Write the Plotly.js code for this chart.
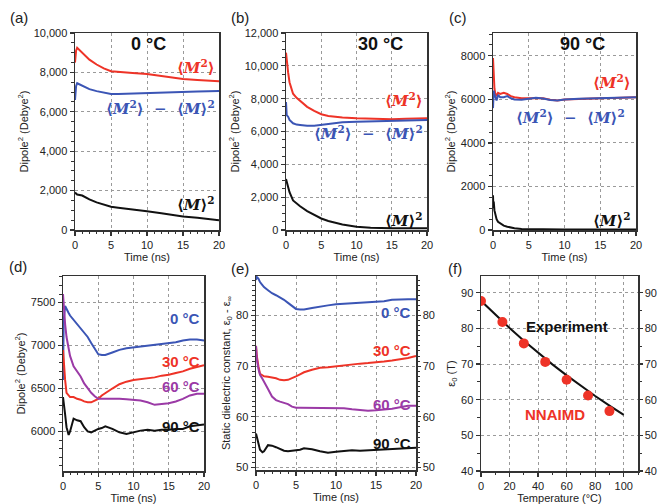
<!DOCTYPE html>
<html><head><meta charset="utf-8">
<script src="https://cdn.plot.ly/plotly-3.0.1.min.js"></script>
<style>html,body{margin:0;padding:0;background:#fff}#chart{width:659px;height:504px}</style>
</head><body><div id="chart"></div>
<script>
// ---------- DATA ----------
// Panel (a) 0 °C
const tA = [0, 0.15, 0.3, 1, 2, 3, 4, 5, 6, 8, 10, 12, 14, 15, 17, 20];
const aM2 = [8500, 9100, 9250, 9000, 8650, 8400, 8200, 8060, 8020, 7970, 7920, 7820, 7700, 7660, 7620, 7550];
const aFluct = [6600, 7300, 7450, 7320, 7150, 7050, 6960, 6900, 6900, 6930, 6960, 6980, 7000, 7010, 7030, 7050];
const aMsq = [1900, 1850, 1800, 1750, 1550, 1400, 1280, 1180, 1130, 1050, 950, 850, 740, 680, 620, 500];
// Panel (b) 30 °C
const tB = [0, 0.1, 0.3, 0.5, 1, 1.5, 2, 3, 4, 5, 6, 7, 8, 10, 12, 15, 17, 20];
const bM2 = [10800, 10300, 9600, 9000, 8300, 8050, 7850, 7500, 7250, 7050, 6950, 6900, 6850, 6800, 6780, 6750, 6780, 6800];
const bFluct = [7800, 7000, 6900, 6700, 6500, 6420, 6400, 6350, 6350, 6400, 6480, 6520, 6560, 6600, 6620, 6650, 6680, 6700];
const bMsq = [3100, 2950, 2600, 2300, 1800, 1600, 1450, 1150, 900, 700, 550, 430, 340, 200, 140, 100, 100, 100];
// Panel (c) 90 °C
const tC = [0, 0.05, 0.1, 0.2, 0.3, 0.5, 0.7, 1, 1.5, 2, 2.5, 3, 4, 5, 6, 7, 8, 9, 10, 12, 15, 17, 20];
const cM2 = [7900, 7300, 6900, 6500, 6300, 6150, 6300, 6250, 6300, 6250, 6150, 6100, 6050, 6050, 6080, 6050, 5980, 5950, 6000, 6030, 6050, 6060, 6100];
const cFluct = [5600, 6300, 6400, 6250, 6100, 5950, 6200, 6100, 6100, 6150, 6050, 6000, 5980, 6030, 6070, 6040, 5970, 5950, 5990, 6030, 6050, 6060, 6100];
const cMsq = [1600, 1000, 1300, 900, 700, 500, 380, 300, 200, 150, 110, 80, 50, 40, 30, 25, 20, 20, 20, 20, 20, 20, 20];
// Panels (d) and (e): time axis shared
const tDE = [0, 0.1, 0.3, 0.5, 0.8, 1, 1.5, 2, 2.5, 3, 3.5, 4, 4.5, 5, 5.5, 6, 7, 8, 9, 10, 11, 12, 13, 14, 15, 16, 17, 18, 19, 20];
const d0 = [6600, 7300, 7460, 7420, 7380, 7350, 7300, 7240, 7200, 7150, 7100, 7030, 6960, 6900, 6890, 6890, 6920, 6950, 6970, 6980, 6990, 7000, 7010, 7020, 7030, 7040, 7060, 7070, 7070, 7060];
const d30 = [6950, 6800, 6600, 6450, 6420, 6400, 6400, 6380, 6370, 6350, 6340, 6340, 6360, 6380, 6420, 6450, 6500, 6550, 6580, 6600, 6610, 6620, 6630, 6650, 6660, 6680, 6700, 6730, 6750, 6770];
const d60 = [7600, 7450, 7250, 7100, 6950, 6880, 6760, 6700, 6640, 6560, 6500, 6450, 6410, 6380, 6380, 6380, 6385, 6380, 6375, 6370, 6360, 6340, 6310, 6320, 6330, 6350, 6380, 6420, 6440, 6440];
const d90 = [6400, 6350, 6200, 6050, 5960, 6000, 6150, 6130, 6120, 6050, 6000, 5990, 6010, 6030, 6040, 6060, 6030, 5990, 5970, 5990, 6010, 6020, 6010, 6020, 6020, 6030, 6030, 6060, 6070, 6080];
const e0 = [87.0, 87.6, 87.3, 86.6, 86.0, 85.6, 85.0, 84.4, 84.0, 83.6, 83.1, 82.5, 81.9, 81.3, 81.2, 81.2, 81.5, 81.8, 82.0, 82.2, 82.3, 82.5, 82.6, 82.6, 82.7, 82.8, 83.1, 83.2, 83.2, 83.2];
const e30 = [74, 72, 70, 68.5, 68.2, 68, 67.9, 67.8, 67.6, 67.3, 67.2, 67.3, 67.6, 68, 68.4, 68.8, 69.3, 69.7, 69.8, 70, 70.2, 70.4, 70.5, 70.6, 70.7, 70.9, 71.1, 71.3, 71.6, 72];
const e60 = [74, 71.5, 69.5, 68.3, 67.5, 67, 65.5, 64, 63.3, 63, 62.8, 62.5, 62, 61.8, 61.8, 61.8, 61.8, 61.8, 61.7, 61.8, 61.7, 61.5, 61.3, 61.2, 61.3, 61.4, 61.6, 61.9, 62.2, 62.2];
const e90 = [56.7, 56, 54.5, 53.5, 53, 53.2, 54.4, 54.3, 54, 53.6, 53.3, 53.2, 53.3, 53.5, 53.5, 53.8, 53.6, 53.2, 52.9, 53.1, 53.2, 53.4, 53.3, 53.4, 53.5, 53.5, 53.6, 53.7, 53.8, 53.9];
// Panel (f)
const expT = [0, 10, 20, 30, 40, 50, 60, 70, 80, 90, 100];
const expEps = [87.74, 83.83, 80.10, 76.54, 73.15, 69.91, 66.82, 63.86, 61.03, 58.32, 55.72];
const nnT = [0, 15, 30, 45, 60, 75, 90];
const nnEps = [87.7, 81.8, 75.8, 70.6, 65.6, 61.2, 56.8];
const tempLabels = ['0 °C', '30 °C', '60 °C', '90 °C'];

// ---------- STYLE ----------
const W = 659, H = 504;
const RED = '#ee3327', BLUE = '#3b55b5', PURPLE = '#9b3aa6', BLACK = '#111111';
const dx = (a, b) => [a / W, b / W];
const dy = (top, bot) => [1 - bot / H, 1 - top / H];
const px = v => v / W, py = v => 1 - v / H;

function ax(extra) {
  return Object.assign({
    showline: true, linecolor: '#333', linewidth: 1.5, mirror: true,
    ticks: 'outside', ticklen: 4, tickwidth: 1.2, tickcolor: '#333',
    showgrid: true, gridcolor: '#9a9a9a', griddash: 'dot', gridwidth: 1,
    zeroline: false, automargin: false,
    tickfont: {size: 11, color: '#222'}
  }, extra);
}
function minor(d) { return {ticks: 'outside', ticklen: 2.5, tickwidth: 1, tickcolor: '#333', dtick: d, showgrid: false}; }
const timeTitle = {text: 'Time (ns)', font: {size: 11, color: '#222'}, standoff: 1};
const timeTitleLow = {text: 'Time (ns)', font: {size: 11, color: '#222'}, standoff: 0};
const dipTitle = {text: 'Dipole<sup>2</sup> (Debye<sup>2</sup>)', font: {size: 11, color: '#222'}, standoff: 3};

function line(x, y, c, xa, ya) {
  return {x: x, y: y, type: 'scatter', mode: 'lines', line: {color: c, width: 2}, xaxis: xa, yaxis: ya, showlegend: false, hoverinfo: 'skip'};
}

const traces = [
  line(tA, aM2, RED, 'x', 'y'), line(tA, aFluct, BLUE, 'x', 'y'), line(tA, aMsq, BLACK, 'x', 'y'),
  line(tB, bM2, RED, 'x2', 'y2'), line(tB, bFluct, BLUE, 'x2', 'y2'), line(tB, bMsq, BLACK, 'x2', 'y2'),
  line(tC, cM2, RED, 'x3', 'y3'), line(tC, cFluct, BLUE, 'x3', 'y3'), line(tC, cMsq, BLACK, 'x3', 'y3'),
  line(tDE, d0, BLUE, 'x4', 'y4'), line(tDE, d30, RED, 'x4', 'y4'), line(tDE, d60, PURPLE, 'x4', 'y4'), line(tDE, d90, BLACK, 'x4', 'y4'),
  line(tDE, e0, BLUE, 'x5', 'y5'), line(tDE, e30, RED, 'x5', 'y5'), line(tDE, e60, PURPLE, 'x5', 'y5'), line(tDE, e90, BLACK, 'x5', 'y5'),
  line(expT, expEps, BLACK, 'x6', 'y6'),
  {x: nnT, y: nnEps, type: 'scatter', mode: 'markers', marker: {color: RED, size: 10}, xaxis: 'x6', yaxis: 'y6', showlegend: false, hoverinfo: 'skip'},
  // carriers for right-side mirrored axes of (e) and (f)
  {x: [null], y: [null], type: 'scatter', mode: 'lines', xaxis: 'x5', yaxis: 'y7', showlegend: false, hoverinfo: 'skip'},
  {x: [null], y: [null], type: 'scatter', mode: 'lines', xaxis: 'x6', yaxis: 'y8', showlegend: false, hoverinfo: 'skip'}
];

const tx = {range: [0, 20], dtick: 5, minor: minor(1), title: timeTitle};
const txLow = {range: [0, 20], dtick: 5, minor: minor(1), title: timeTitleLow};
const layout = {
  width: W, height: H, margin: {l: 0, r: 0, t: 0, b: 0},
  paper_bgcolor: '#fff', plot_bgcolor: '#fff',
  font: {family: 'Liberation Sans, Arial, sans-serif', color: '#222'},
  showlegend: false,
  xaxis: ax(Object.assign({domain: dx(75, 219), anchor: 'y'}, tx)),
  yaxis: ax({domain: dy(33, 230), anchor: 'x', range: [0, 10000], dtick: 2000, tickformat: ',d', minor: minor(500), title: dipTitle}),
  xaxis2: ax(Object.assign({domain: dx(286, 427), anchor: 'y2'}, tx)),
  yaxis2: ax({domain: dy(33, 230), anchor: 'x2', range: [0, 12000], dtick: 2000, tickformat: ',d', minor: minor(500), title: dipTitle}),
  xaxis3: ax(Object.assign({domain: dx(493, 636), anchor: 'y3'}, tx)),
  yaxis3: ax({domain: dy(33, 230), anchor: 'x3', range: [0, 9050], dtick: 2000, minor: minor(500), title: dipTitle}),
  xaxis4: ax(Object.assign({domain: dx(63, 204), anchor: 'y4'}, txLow)),
  yaxis4: ax({domain: dy(276, 471), anchor: 'x4', range: [5540, 7810], tick0: 6000, dtick: 500, minor: minor(100), title: dipTitle}),
  xaxis5: ax(Object.assign({domain: dx(256, 416), anchor: 'y5'}, txLow)),
  yaxis5: ax({domain: dy(276, 470), anchor: 'x5', range: [49.5, 87.8], dtick: 10, minor: minor(1),
    title: {text: 'Static dielectric constant, ε<sub>0</sub> - ε<sub>∞</sub>', font: {size: 11, color: '#222'}, standoff: 3}}),
  yaxis7: ax({overlaying: 'y5', anchor: 'x5', side: 'right', range: [49.5, 87.8], dtick: 10, minor: minor(1), showgrid: false, mirror: false, ticklen: 3}),
  xaxis6: ax({domain: dx(481, 638), anchor: 'y6', range: [0, 110], dtick: 20, minor: minor(10),
    title: {text: 'Temperature (°C)', font: {size: 11, color: '#222'}, standoff: 0}}),
  yaxis6: ax({domain: dy(276, 471), anchor: 'x6', range: [40, 94.7], dtick: 10, minor: minor(5),
    title: {text: 'ε<sub>0</sub> (T)', font: {size: 11, color: '#222'}, standoff: 3}}),
  yaxis8: ax({overlaying: 'y6', anchor: 'x6', side: 'right', range: [40, 94.7], dtick: 10, minor: minor(5), showgrid: false, mirror: false, ticklen: 3}),
  annotations: []
};

const ann = layout.annotations;
function A(text, x, y, opts) {
  ann.push(Object.assign({text: text, xref: 'paper', yref: 'paper', x: px(x), y: py(y), showarrow: false,
    xanchor: 'center', yanchor: 'middle', font: {size: 15, color: '#222'}}, opts || {}));
}
// panel letters
[['(a)', 19, 18], ['(b)', 240, 18], ['(c)', 458, 18], ['(d)', 18, 266], ['(e)', 240, 268], ['(f)', 455, 268]]
  .forEach(p => A(p[0], p[1], p[2], {font: {size: 15, color: '#222'}}));
// temperature headers of top row
A('<b>0 °C</b>', 148, 44, {font: {size: 18, color: '#111'}});
A('<b>30 °C</b>', 380, 44, {font: {size: 18, color: '#111'}});
A('<b>90 °C</b>', 582, 44, {font: {size: 18, color: '#111'}});
// math labels
const mf = (c) => ({family: 'DejaVu Serif, Liberation Serif, serif', size: 15, color: c});
const M2 = '<b>⟨<i>M</i><sup>2</sup>⟩</b>';
const FL = '<b>⟨<i>M</i><sup>2</sup>⟩  −  ⟨<i>M</i>⟩<sup>2</sup></b>';
const MS = '<b>⟨<i>M</i>⟩<sup>2</sup></b>';
A(M2, 217, 67, {xanchor: 'right', font: mf(RED)});
A(FL, 217, 108, {xanchor: 'right', font: mf(BLUE)});
A(MS, 217, 204, {xanchor: 'right', font: mf(BLACK)});
A(M2, 425, 100, {xanchor: 'right', font: mf(RED)});
A(FL, 425, 133, {xanchor: 'right', font: mf(BLUE)});
A(MS, 425, 220, {xanchor: 'right', font: mf(BLACK)});
A(M2, 633, 82, {xanchor: 'right', font: mf(RED)});
A(FL, 627, 117, {xanchor: 'right', font: mf(BLUE)});
A(MS, 633, 220, {xanchor: 'right', font: mf(BLACK)});
// temperature labels (d), (e)
const cols = [BLUE, RED, PURPLE, BLACK];
[318, 361, 386, 426].forEach((y, i) => A('<b>' + tempLabels[i] + '</b>', 202, y, {xanchor: 'right', font: {size: 15, color: cols[i]}}));
[312, 350, 404, 443].forEach((y, i) => A('<b>' + tempLabels[i] + '</b>', 413, y, {xanchor: 'right', font: {size: 15, color: cols[i]}}));
// (f) labels
A('<b>Experiment</b>', 567, 326, {font: {size: 15, color: '#111'}});
A('<b>NNAIMD</b>', 555, 414, {font: {size: 15, color: RED}});

Plotly.newPlot('chart', traces, layout, {staticPlot: true, displayModeBar: false});
</script></body></html>
